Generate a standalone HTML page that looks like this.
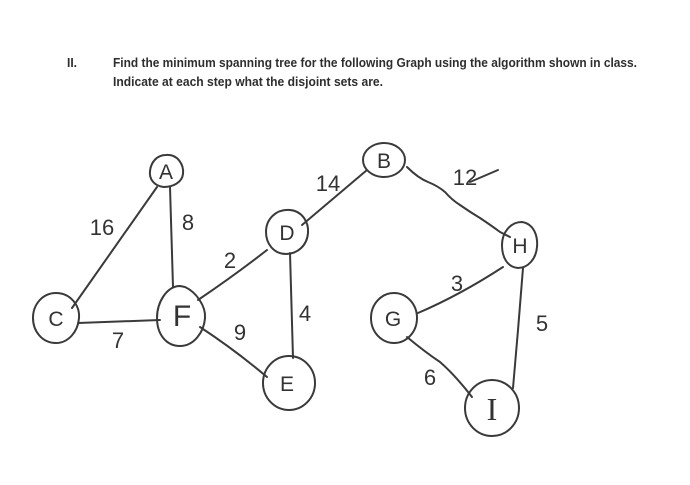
<!DOCTYPE html>
<html><head><meta charset="utf-8"><style>
html,body{margin:0;padding:0;background:#fff;}
svg{display:block;}
.h{font-family:"Liberation Sans",sans-serif;font-weight:bold;font-size:13px;fill:#2e2e2e;}
.n{font-family:"Liberation Sans",sans-serif;font-size:21px;fill:#333;text-anchor:middle;}
.w{font-family:"Liberation Sans",sans-serif;font-size:22px;fill:#333;text-anchor:middle;}
</style></head><body>
<svg width="690" height="485" viewBox="0 0 690 485" xmlns="http://www.w3.org/2000/svg">
<rect width="690" height="485" fill="#fff"/>
<text class="h" x="67" y="67" textLength="10" lengthAdjust="spacingAndGlyphs">II.</text>
<text class="h" x="113" y="67" textLength="524" lengthAdjust="spacingAndGlyphs">Find the minimum spanning tree for the following Graph using the algorithm shown in class.</text>
<text class="h" x="113" y="86" textLength="270" lengthAdjust="spacingAndGlyphs">Indicate at each step what the disjoint sets are.</text>

<g fill="none" stroke="#3a3a3a" stroke-width="2" stroke-linecap="round" stroke-linejoin="round">
<!-- edges -->
<path d="M157,187 Q120,240 72,308"/>
<path d="M170,187 L173,287"/>
<path d="M78,323 L160,320"/>
<path d="M198,300 Q235,275 267,250"/>
<path d="M200,327 Q235,350 267,377"/>
<path d="M290,253 L293,358"/>
<path d="M302,225 L367,170"/>
<path d="M407,167 Q418,178 428,182 Q438,186 445,192 Q452,200 460,205 Q470,212 480,218 Q492,226 500,232 L510,237"/>
<path d="M418,313 Q460,295 503,267"/>
<path d="M523,268 L518,330 L513,388"/>
<path d="M407,337 Q425,352 440,362 Q455,375 472,397"/>
<path d="M470,182 L498,170"/>
<!-- nodes -->
<path d="M166,155 C178,154 184,165 183,174 C182,183 172,187 164,187 C154,186 149,179 150,171 C151,162 157,155 166,155 Z"/>
<ellipse cx="384" cy="160" rx="21" ry="17"/>
<path d="M56,293 C70,293 80,305 79,318 C78,332 68,343 56,343 C42,343 33,331 33,318 C33,304 43,293 56,293 Z"/>
<path d="M290,210 C302,211 309,222 308,233 C307,246 297,254 286,254 C274,254 266,244 266,232 C266,219 276,209 290,210 Z"/>
<ellipse cx="289" cy="383" rx="26" ry="27"/>
<path d="M185,287 C196,292 206,306 205,318 C204,332 194,346 180,346 C166,346 157,334 157,318 C157,302 167,286 180,286 Z"/>
<ellipse cx="394" cy="318" rx="23" ry="25"/>
<path d="M522,222 C534,224 538,236 537,247 C536,259 528,268 518,268 C507,267 502,257 502,245 C502,233 510,222 522,222 Z"/>
<ellipse cx="492" cy="408" rx="27" ry="28"/>
</g>

<text class="n" x="166" y="179">A</text>
<text class="n" x="384" y="168">B</text>
<text class="n" x="56" y="326">C</text>
<text class="n" x="287" y="240">D</text>
<text class="n" x="287" y="391">E</text>
<text class="n" x="182" y="326" style="font-size:30px">F</text>
<text class="n" x="492" y="420" style="font-family:'Liberation Serif',serif;font-size:32px">I</text>
<text class="n" x="393" y="326">G</text>
<text class="n" x="520" y="253">H</text>

<text class="w" x="102" y="235">16</text>
<text class="w" x="188" y="230">8</text>
<text class="w" x="230" y="268">2</text>
<text class="w" x="328" y="191">14</text>
<text class="w" x="465" y="185">12</text>
<text class="w" x="305" y="321">4</text>
<text class="w" x="118" y="348">7</text>
<text class="w" x="240" y="340">9</text>
<text class="w" x="457" y="291">3</text>
<text class="w" x="542" y="331">5</text>
<text class="w" x="430" y="385">6</text>
</svg>
</body></html>
